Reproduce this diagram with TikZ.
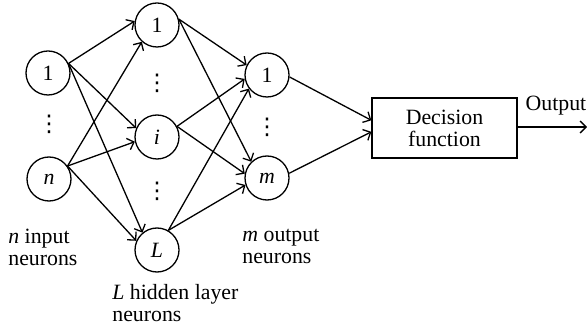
\documentclass[tikz,border=0pt]{standalone}
\usepackage{fontspec}
\setmainfont{Liberation Serif}
\newfontfamily\dotsfont{DejaVu Sans}
\usetikzlibrary{arrows.meta}
\begin{document}
\begin{tikzpicture}[x=0.5pt,y=-0.5pt,
  every node/.style={font=\fontsize{10.9}{11}\selectfont},
  neuron/.style={draw,circle,line width=0.65pt,minimum size=22pt,inner sep=0pt},
  box/.style={draw,rectangle,line width=0.65pt,minimum width=72.5pt,minimum height=30pt,align=center,inner sep=0pt},
  conn/.style={line width=0.65pt,-{Straight Barb[length=3pt,width=6pt]}},
  lbl/.style={align=left,anchor=north west,inner sep=0pt},
  dots/.style={inner sep=0pt,font=\dotsfont\fontsize{11.5}{11.5}\selectfont}]
\useasboundingbox (0,0) rectangle (587,325);
% input layer
\node[neuron] (in1) at (48,73) {1};
\node[neuron] (inn) at (49,179) {\textit{n}};
\node[dots] (d1) at (49,124) {⋮};
% hidden layer
\node[neuron] (h1) at (157,25) {1};
\node[neuron] (hi) at (157,137) {\textit{i}};
\node[neuron] (hL) at (157,250) {\textit{L}};
\node[dots] (d2) at (157,83) {⋮};
\node[dots] (d3) at (157,191) {⋮};
% output layer
\node[neuron] (o1) at (267,75) {1};
\node[neuron] (om) at (267,178) {\textit{m}};
\node[dots] (d4) at (267,127) {⋮};
% decision
\node[box] (dec) at (444.5,128) {Decision\\function};
\coordinate (out) at (587,127);
\node[inner sep=0pt] (outl) at (556,106) {Output};
% labels
\node[lbl] (lin) at (8,229) {\textit{n} input\\neurons};
\node[lbl] (lout) at (242,229) {\textit{m} output\\neurons};
\node[lbl] (lhid) at (112,284) {\textit{L} hidden layer\\neurons};
% connections
\draw[conn] (in1.25) -- (h1.170);
\draw[conn] (in1.25) -- (hi.157);
\draw[conn] (in1.25) -- (hL.130);
\draw[conn] (inn.35) -- (h1.228);
\draw[conn] (inn.35) -- (hi.192);
\draw[conn] (inn.35) -- (hL.156);
\draw[conn] (h1.15) -- (o1.154);
\draw[conn] (h1.15) -- (om.134);
\draw[conn] (hi.28) -- (o1.190);
\draw[conn] (hi.28) -- (om.169);
\draw[conn] (hL.60) -- (o1.217);
\draw[conn] (hL.60) -- (om.198);
\draw[conn] (o1.-5) -- (dec.174);
\draw[conn] (om.12) -- (dec.183);
\draw[conn] (dec.east |- out) -- (out);
\end{tikzpicture}
\end{document}
